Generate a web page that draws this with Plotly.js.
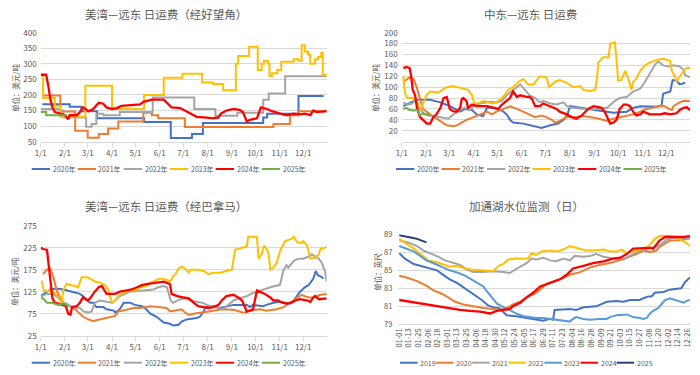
<!DOCTYPE html>
<html><head><meta charset="utf-8">
<script src="https://cdn.plot.ly/plotly-3.0.1.min.js"></script>
<style>html,body{margin:0;padding:0;background:#fff;}#chart{width:700px;height:375px;}</style>
</head><body><div id="chart"></div>
<script>
// ---------- ticks ----------
const monthTickDays = [0,31,60,91,121,152,182,213,244,274,305,335];
const monthTickLabels = ['1/1','2/1','3/1','4/1','5/1','6/1','7/1','8/1','9/1','10/1','11/1','12/1'];
const waterTickDays = [0,12,24,36,48,60,72,84,96,108,120,132,144,156,168,180,192,204,216,228,240,252,264,276,288,300,312,324,336,348,360];
const waterTickLabels = ['01-01','01-13','01-25','02-06','02-18','03-01','03-13','03-25','04-06','04-18','04-30','05-12','05-24','06-05','06-17','06-29','07-11','07-23','08-04','08-16','08-28','09-09','09-21','10-03','10-15','10-27','11-08','11-20','12-02','12-14','12-26'];
const freightYears = ['2020年','2021年','2022年','2023年','2024年','2025年'];
const waterYears = ['2019','2020','2021','2022','2023','2024','2025'];

// ---------- chart 1: US Gulf - Far East via Cape of Good Hope [day, USD/t] ----------
const cape2020 = [[2,170],[37,162],[52,148],[72,125],[132,113],[166,62],[193,75],[207,110],[284,128],[289,140],[329,197],[361,197]];
const cape2021 = [[2,198],[25,147],[44,85],[60,63],[74,75],[86,92],[99,115],[131,143],[142,135],[150,125],[184,97],[297,107],[318,135],[329,148],[365,150]];
const cape2022 = [[0,155],[23,150],[29,128],[58,98],[65,107],[71,140],[80,135],[101,145],[143,192],[196,155],[223,133],[251,143],[284,185],[291,205],[312,260],[365,260]];
const cape2023 = [[0,265],[3,190],[18,165],[25,130],[57,230],[91,155],[132,200],[157,255],[181,268],[206,240],[220,235],[233,215],[249,300],[252,325],[266,355],[277,280],[282,300],[285,310],[290,300],[292,260],[295,270],[302,280],[307,307],[323,315],[329,310],[333,360],[337,340],[341,330],[344,300],[350,315],[354,322],[358,335],[360,265],[365,260]];
const cape2024 = [[0,265],[7,265],[10,225],[12,190],[15,160],[18,145],[25,140],[31,135],[35,122],[37,135],[46,135],[50,145],[54,160],[61,148],[67,155],[74,175],[80,172],[84,160],[91,155],[97,158],[103,165],[118,168],[127,170],[131,178],[142,185],[157,185],[161,175],[167,160],[178,158],[186,148],[193,140],[199,130],[212,127],[220,125],[227,128],[230,140],[237,150],[246,155],[254,152],[258,145],[263,115],[267,120],[276,125],[281,160],[289,155],[295,148],[306,140],[314,135],[323,140],[331,138],[337,140],[344,135],[348,150],[352,145],[365,148]];
const cape2025 = [[0,145],[7,135],[34,135]];

// ---------- chart 2: Middle East - Far East [day, USD/t] ----------
const meg2020 = [[2,65],[10,70],[19,77],[36,77],[49,72],[61,65],[68,60],[74,55],[80,60],[89,58],[95,50],[103,47],[108,62],[116,62],[127,57],[133,50],[137,40],[141,35],[154,33],[167,28],[177,25],[188,30],[198,33],[205,40],[210,50],[213,65],[226,62],[238,60],[255,55],[268,53],[285,55],[293,62],[302,65],[323,64],[329,66],[331,88],[340,92],[343,113],[348,112],[352,105],[359,108]];
const meg2021 = [[2,110],[10,118],[15,115],[19,100],[23,80],[27,60],[36,50],[46,40],[57,30],[65,28],[70,30],[76,35],[82,40],[91,45],[99,50],[108,55],[114,50],[120,55],[129,60],[137,65],[146,60],[154,55],[162,50],[169,45],[177,48],[183,45],[190,40],[194,35],[200,38],[209,45],[221,45],[230,47],[247,43],[260,38],[268,42],[276,45],[285,48],[293,50],[302,55],[310,60],[317,62],[327,66],[333,65],[338,60],[342,58],[344,65],[352,72],[357,75],[365,74]];
const meg2022 = [[2,72],[8,68],[13,70],[17,75],[23,60],[29,50],[40,46],[48,45],[59,42],[65,50],[70,55],[76,60],[80,62],[86,58],[91,65],[99,70],[112,73],[120,72],[127,75],[133,85],[141,95],[150,105],[156,95],[162,85],[169,80],[175,72],[179,75],[188,70],[196,68],[205,72],[209,65],[215,62],[230,60],[247,60],[260,62],[266,70],[270,75],[276,80],[285,82],[293,92],[302,97],[308,110],[314,125],[321,142],[325,147],[331,140],[338,138],[344,140],[352,138],[357,132],[359,122],[365,118]];
const meg2023 = [[2,120],[4,90],[7,80],[15,80],[21,70],[24,58],[31,85],[36,92],[46,90],[51,95],[57,100],[65,102],[70,100],[78,96],[84,95],[89,85],[92,70],[97,70],[103,75],[114,70],[120,72],[127,80],[135,95],[141,100],[148,110],[154,115],[160,105],[167,105],[171,112],[175,120],[183,118],[187,100],[194,110],[200,113],[209,108],[217,100],[226,102],[230,95],[238,93],[245,95],[247,115],[249,145],[255,155],[262,155],[264,180],[270,182],[272,150],[274,112],[278,113],[283,130],[287,115],[291,95],[293,110],[297,115],[302,130],[308,140],[314,145],[323,150],[331,152],[340,148],[342,130],[346,120],[348,110],[352,120],[357,130],[361,135],[365,135]];
const meg2024 = [[2,135],[6,137],[10,135],[12,120],[14,95],[17,85],[19,65],[23,45],[27,40],[32,33],[36,33],[40,45],[44,50],[49,62],[53,80],[57,82],[61,60],[65,56],[70,55],[74,62],[76,78],[78,80],[82,75],[84,62],[89,68],[95,65],[108,65],[116,62],[122,60],[127,68],[133,75],[137,80],[141,92],[146,82],[150,85],[158,82],[162,82],[165,78],[169,65],[175,65],[179,70],[188,65],[196,60],[200,55],[209,50],[215,45],[221,42],[228,48],[232,55],[236,60],[243,65],[253,62],[257,55],[260,45],[264,33],[268,35],[272,40],[276,60],[281,68],[285,68],[289,65],[293,55],[297,48],[302,50],[306,55],[314,50],[327,50],[333,52],[340,50],[348,52],[352,58],[357,62],[361,63],[365,58]];
const meg2025 = [[2,60],[6,62],[10,58],[15,57],[19,58],[21,55],[23,48],[27,52],[32,50],[36,48]];

// ---------- chart 3: US Gulf - Far East via Panama [day, USD/t] ----------
const pan2020 = [[0,115],[8,125],[12,130],[20,132],[29,130],[40,125],[50,120],[54,115],[58,108],[63,100],[67,100],[71,90],[80,90],[84,85],[93,82],[95,78],[99,82],[102,88],[106,100],[114,100],[120,95],[129,92],[133,88],[140,75],[148,68],[152,62],[157,55],[165,52],[169,48],[176,50],[180,57],[186,62],[199,65],[203,68],[208,80],[210,90],[220,92],[229,88],[237,92],[246,95],[263,95],[267,90],[271,95],[284,92],[288,95],[297,100],[305,102],[312,100],[318,98],[323,105],[327,115],[331,125],[337,135],[342,140],[348,155],[351,172],[354,162],[357,160],[361,155]];
const pan2021 = [[3,165],[8,175],[12,178],[16,160],[20,130],[25,110],[29,100],[33,95],[37,92],[44,85],[50,75],[54,68],[61,62],[67,58],[71,60],[76,62],[82,65],[88,67],[95,70],[99,80],[106,82],[112,85],[118,88],[127,88],[140,92],[148,90],[161,88],[165,80],[174,82],[180,85],[184,78],[189,72],[195,75],[208,78],[220,82],[233,85],[246,84],[255,80],[259,77],[267,82],[280,85],[288,82],[301,85],[310,90],[314,95],[318,100],[323,105],[327,110],[331,115],[333,118],[337,115],[342,112],[348,112],[357,118],[365,120]];
const pan2022 = [[1,115],[8,120],[16,120],[23,110],[27,100],[33,98],[40,90],[50,88],[55,80],[61,78],[65,80],[69,100],[76,105],[84,102],[91,100],[95,105],[101,115],[108,120],[114,125],[127,127],[135,128],[144,130],[150,135],[157,138],[161,135],[163,122],[166,105],[169,100],[178,108],[186,110],[191,105],[199,102],[206,100],[212,95],[220,90],[227,88],[231,85],[235,88],[242,100],[246,105],[254,110],[263,115],[271,122],[280,128],[286,132],[293,135],[299,138],[305,140],[306,145],[310,175],[314,185],[316,180],[323,195],[329,200],[335,200],[342,205],[346,210],[350,205],[355,200],[359,190],[363,170],[365,148]];
const pan2023 = [[1,150],[4,128],[8,125],[11,130],[14,120],[16,125],[20,118],[25,105],[27,100],[29,130],[33,143],[37,140],[44,138],[48,135],[52,158],[59,158],[63,155],[69,148],[76,145],[82,140],[86,130],[91,100],[95,105],[99,115],[103,120],[110,125],[116,130],[123,128],[127,135],[135,138],[140,145],[146,150],[152,155],[161,152],[165,148],[169,160],[172,165],[176,178],[180,182],[184,178],[189,168],[191,175],[199,175],[208,172],[214,165],[220,168],[229,168],[237,172],[244,175],[248,220],[257,225],[263,228],[265,250],[276,250],[278,200],[282,210],[285,230],[289,220],[291,210],[293,175],[297,180],[301,190],[306,220],[312,240],[320,245],[323,250],[327,238],[333,235],[335,240],[340,230],[344,200],[350,202],[355,210],[357,222],[363,225],[365,228]];
const pan2024 = [[0,225],[3,222],[8,220],[10,185],[13,140],[15,110],[18,100],[23,98],[29,95],[32,93],[35,75],[38,73],[40,90],[46,92],[50,100],[54,112],[60,105],[63,110],[69,125],[74,135],[78,138],[81,130],[84,120],[95,120],[101,125],[110,128],[116,130],[123,135],[129,140],[135,142],[144,145],[157,148],[161,145],[165,142],[167,120],[174,115],[182,112],[189,110],[195,100],[201,92],[208,90],[214,88],[220,90],[227,95],[231,105],[237,115],[246,118],[252,112],[257,105],[263,80],[267,82],[271,85],[276,128],[280,125],[286,120],[293,112],[297,105],[303,105],[308,100],[314,98],[320,100],[325,105],[331,108],[340,105],[344,102],[348,112],[350,115],[355,108],[365,110]];
const pan2025 = [[0,110],[3,110],[8,100],[14,100],[23,95],[27,98],[33,95],[35,90]];

// ---------- chart 4: Gatun Lake water level [day, feet] ----------
const gatun2019 = [[0,86.9],[7,86.3],[18,85.7],[26,85.5],[38,85.2],[47,85.0],[53,84.6],[63,84.0],[72,83.6],[82,83.0],[92,82.3],[103,81.7],[111,81.1],[117,80.9],[125,80.8],[134,80.0],[146,79.9],[159,79.7],[171,79.5],[180,79.4],[188,79.6],[192,79.5],[194,80.6],[205,80.7],[213,80.7],[221,80.6],[230,80.9],[246,81.0],[259,81.5],[271,81.6],[280,81.5],[288,81.7],[300,81.7],[305,81.9],[311,82.1],[315,82.1],[319,82.5],[330,82.6],[336,82.8],[342,82.9],[352,83.0],[357,83.7],[363,84.2]];
const gatun2020 = [[0,84.4],[9,84.2],[22,83.8],[34,83.3],[42,82.8],[53,82.4],[61,82.0],[70,81.5],[80,81.2],[92,81.0],[105,80.8],[117,80.7],[126,80.6],[134,80.8],[142,81.2],[151,81.5],[159,82.0],[171,82.5],[178,83.0],[184,83.5],[200,84.0],[213,84.5],[226,84.8],[238,85.3],[250,85.6],[263,85.8],[278,86.2],[288,86.5],[296,86.8],[305,87.2],[313,87.0],[321,87.2],[325,87.6],[332,88.0],[338,88.3],[346,88.3],[355,88.4],[363,88.6]];
const gatun2021 = [[0,88.3],[11,88.1],[22,87.7],[30,87.2],[38,86.9],[49,86.5],[57,86.1],[67,85.8],[76,85.6],[84,85.1],[92,84.8],[105,84.8],[117,84.9],[130,84.8],[138,84.7],[149,85.3],[159,85.8],[165,86.3],[171,86.2],[180,86.4],[188,86.1],[196,86.0],[205,86.3],[213,86.1],[219,86.6],[230,86.5],[238,86.6],[246,86.8],[255,86.5],[267,86.3],[280,86.2],[288,86.6],[296,87.0],[305,87.3],[313,87.5],[321,87.6],[327,87.9],[334,88.4],[342,88.6],[350,88.5],[355,88.6],[363,88.5]];
const gatun2022 = [[0,88.5],[9,88.0],[20,87.3],[28,86.7],[36,86.1],[47,85.9],[57,85.6],[63,85.4],[72,85.5],[82,85.2],[90,85.1],[105,85.0],[117,84.9],[124,85.5],[130,85.7],[136,86.2],[146,86.3],[161,86.3],[165,86.9],[171,86.7],[178,87.1],[188,87.2],[198,87.1],[207,87.4],[213,87.7],[221,87.5],[232,87.2],[242,87.2],[255,87.3],[263,87.1],[271,87.1],[278,87.3],[284,86.9],[292,87.1],[305,87.4],[313,87.8],[319,88.5],[325,88.8],[338,88.8],[346,88.7],[352,88.4],[359,88.0],[363,87.7]];
const gatun2023 = [[0,87.7],[9,87.4],[18,87.1],[26,86.6],[34,86.1],[45,85.7],[55,85.3],[63,85.0],[74,84.7],[82,84.4],[90,84.0],[97,83.6],[105,83.2],[109,82.7],[115,82.0],[122,81.3],[130,80.9],[138,80.6],[146,80.2],[155,79.9],[163,79.8],[171,79.7],[180,79.7],[196,79.5],[209,79.4],[213,79.3],[217,79.6],[221,79.8],[230,79.6],[238,79.5],[250,79.6],[259,79.6],[263,79.8],[271,80.0],[284,80.1],[292,79.8],[300,79.7],[305,79.6],[309,79.7],[313,80.2],[317,80.5],[323,80.8],[327,81.2],[332,81.7],[338,81.9],[344,81.7],[352,81.5],[355,81.4],[359,81.6],[363,81.7]];
const gatun2024 = [[0,81.7],[13,81.5],[26,81.3],[42,81.1],[59,80.8],[76,80.6],[88,80.5],[101,80.4],[113,80.2],[122,80.5],[130,80.6],[138,80.7],[142,81.0],[151,81.4],[159,82.0],[167,82.5],[176,83.2],[188,83.6],[201,84.0],[209,84.5],[217,85.2],[230,85.5],[242,85.8],[255,86.0],[267,86.3],[276,86.4],[284,86.8],[292,87.4],[305,87.5],[313,87.5],[317,87.4],[325,88.3],[332,88.7],[342,88.7],[355,88.7],[363,88.8]];
const gatun2025 = [[0,88.9],[13,88.7],[22,88.5],[28,88.3],[34,88.1]];

// ---------- styling ----------
const FONT = '"Noto Sans CJK SC", "Noto Sans", sans-serif';
const TXT = '#595959';
const GRID = '#D9D9D9';
const freightColors = ['#4472C4','#ED7D31','#A5A5A5','#FFC000','#FF0000','#70AD47'];
const waterColors = ['#4472C4','#ED7D31','#A5A5A5','#FFC000','#5B9BD5','#FF0000','#264478'];
const W = 700, H = 375;
const px = v => v / W, py = v => 1 - v / H;

function mk(data, n, color, shape) {
  return {
    type: 'scatter', mode: 'lines',
    x: data.map(p => p[0]), y: data.map(p => p[1]),
    xaxis: 'x' + (n === 1 ? '' : n), yaxis: 'y' + (n === 1 ? '' : n),
    line: {color: color, width: color === '#FF0000' ? 2.3 : 2, shape: shape || 'linear'},
    hoverinfo: 'skip', showlegend: false
  };
}

const traces = [];
const capeSeries = [cape2020, cape2021, cape2022, cape2023, cape2024, cape2025];
const capeShapes = ['hv','hv','hv','hv','linear','hv'];
capeSeries.forEach((d, i) => traces.push(mk(d, 1, freightColors[i], capeShapes[i])));
[meg2020, meg2021, meg2022, meg2023, meg2024, meg2025].forEach((d, i) => traces.push(mk(d, 2, freightColors[i])));
[pan2020, pan2021, pan2022, pan2023, pan2024, pan2025].forEach((d, i) => traces.push(mk(d, 3, freightColors[i])));
[gatun2019, gatun2020, gatun2021, gatun2022, gatun2023, gatun2024, gatun2025].forEach((d, i) => traces.push(mk(d, 4, waterColors[i])));

function xMonth(l, r) {
  return {domain: [px(l), px(r)], range: [0, 365], tickmode: 'array', tickvals: monthTickDays, ticktext: monthTickLabels,
    showgrid: false, zeroline: false, showline: true, linecolor: GRID, linewidth: 1,
    ticks: 'outside', ticklen: 4, tickcolor: GRID, tickfont: {size: 8, color: TXT, family: FONT}, fixedrange: true};
}
function yAx(t, b, range, vals, anchor, standoff, size) {
  return {domain: [py(b), py(t)], range: range, tickmode: 'array', tickvals: vals,
    showgrid: true, gridcolor: GRID, gridwidth: 1, zeroline: false, showline: false, ticks: '',
    ticklabelstandoff: standoff, tickfont: {size: size, color: TXT, family: FONT}, anchor: anchor, fixedrange: true};
}

const layout = {
  width: W, height: H, margin: {l: 0, r: 0, t: 0, b: 0},
  paper_bgcolor: '#fff', plot_bgcolor: '#fff', showlegend: false,
  font: {family: FONT, color: TXT},
  xaxis: Object.assign(xMonth(40.7, 326.7), {anchor: 'y'}),
  yaxis: yAx(32.7, 141.7, [50, 400], [50,100,150,200,250,300,350,400], 'x', 3, 8),
  xaxis2: Object.assign(xMonth(401.7, 690), {anchor: 'y2'}),
  yaxis2: yAx(32.7, 141.6, [0, 200], [20,40,60,80,100,120,140,160,180,200], 'x2', 3, 8),
  xaxis3: Object.assign(xMonth(40.7, 326.7), {anchor: 'y3'}),
  yaxis3: yAx(225.7, 335.7, [25, 275], [25,75,125,175,225,275], 'x3', 3, 8),
  xaxis4: {domain: [px(398.3), px(690)], range: [-1.2, 363], tickmode: 'array', tickvals: waterTickDays, ticktext: waterTickLabels,
    tickangle: -90, showgrid: false, zeroline: false, showline: true, linecolor: GRID, ticks: '',
    tickfont: {size: 7.5, color: TXT, family: FONT}, anchor: 'y4', fixedrange: true},
  yaxis4: yAx(234.3, 324.3, [79, 89], [79,81,83,85,87,89], 'x4', 5, 7.5),
  annotations: [], shapes: []
};

function addText(text, x, y, size, opts) {
  layout.annotations.push(Object.assign({xref: 'paper', yref: 'paper', x: px(x), y: py(y), text: text, showarrow: false,
    xanchor: 'center', yanchor: 'middle', font: {size: size, color: TXT, family: FONT}}, opts || {}));
}
// titles
addText('美湾—远东 日运费（经好望角）', 165.7, 14, 11.5);
addText('中东—远东 日运费', 530, 14, 11.5);
addText('美湾—远东 日运费（经巴拿马）', 165.7, 206, 11.5);
addText('加通湖水位监测（日）', 526.7, 206, 11.5);
// y-axis titles
addText('单位：美元/吨', 15, 88, 7.5, {textangle: -90});
addText('单位：美元/吨', 375, 88, 7.5, {textangle: -90});
addText('单位：美元/吨', 15, 281.7, 7.5, {textangle: -90});
addText('单位：英尺', 376.7, 272, 7.5, {textangle: -90});

// legends (drawn manually to match compact legend keys)
function addLegend(names, colors, x0, stride, y, lineLen, size) {
  names.forEach((nm, i) => {
    const xs = x0 + i * stride;
    layout.shapes.push({type: 'line', xref: 'paper', yref: 'paper', x0: px(xs), x1: px(xs + lineLen), y0: py(y), y1: py(y),
      line: {color: colors[i], width: 2}});
    addText(nm, xs + lineLen + 0.5, y, size, {xanchor: 'left'});
  });
}
addLegend(freightYears, freightColors, 31.7, 46, 169, 18.3, 7);
addLegend(freightYears, freightColors, 396, 45.5, 169, 18.3, 7);
addLegend(freightYears, freightColors, 31.7, 46, 362.7, 18.3, 7);
addLegend(waterYears, waterColors, 400, 36.1, 362.7, 17.5, 7);

Plotly.newPlot('chart', traces, layout, {staticPlot: true, displayModeBar: false});
</script></body></html>
